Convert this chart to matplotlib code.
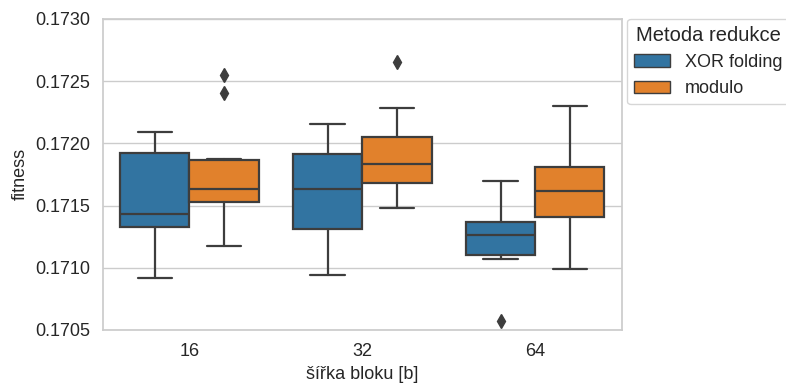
import matplotlib
matplotlib.use("Agg")
import matplotlib.pyplot as plt
import matplotlib.patches as mpatches
import seaborn as sns

sns.set_theme(style="whitegrid")
plt.rcParams['font.family'] = ['Liberation Sans', 'DejaVu Sans']

# box statistics: (whislo, q1, med, q3, whishi)
groups = ["16", "32", "64"]
methods = ["XOR folding", "modulo"]
xor_stats = [
    (0.170918, 0.171328, 0.171432, 0.171923, 0.172092),
    (0.170940, 0.171315, 0.171633, 0.171912, 0.172153),
    (0.171068, 0.171103, 0.171264, 0.171368, 0.171700),
]
mod_stats = [
    (0.171175, 0.171526, 0.171633, 0.171869, 0.171875),
    (0.171478, 0.171679, 0.171834, 0.172054, 0.172282),
    (0.170988, 0.171411, 0.171615, 0.171808, 0.172303),
]
xor_fliers = [[], [], [0.170575]]
mod_fliers = [[0.172550, 0.172405], [0.172657], []]

colors = ["#3274a1", "#e1812c"]
line_c = "#3d3d3d"

fig = plt.figure(figsize=(7.86, 3.85), dpi=100)
ax = fig.add_axes([0.131, 0.143, 0.66, 0.808])


def make_stats(rows, fliers):
    out = []
    for r, f in zip(rows, fliers):
        out.append(dict(whislo=r[0], q1=r[1], med=r[2], q3=r[3], whishi=r[4], fliers=f))
    return out


offsets = [-0.2, 0.2]
for k, (rows, fl) in enumerate([(xor_stats, xor_fliers), (mod_stats, mod_fliers)]):
    pos = [i + offsets[k] for i in range(len(groups))]
    ax.bxp(make_stats(rows, fl), positions=pos, widths=0.4, patch_artist=True,
           boxprops=dict(facecolor=colors[k], edgecolor=line_c, linewidth=1.6),
           medianprops=dict(color=line_c, linewidth=1.6),
           whiskerprops=dict(color=line_c, linewidth=1.6),
           capprops=dict(color=line_c, linewidth=1.6),
           flierprops=dict(marker="d", markerfacecolor=line_c, markeredgecolor=line_c,
                           markersize=7, linestyle="none"),
           manage_ticks=False)

ax.set_xlim(-0.5, 2.5)
ax.set_ylim(0.1705, 0.1730)
ax.set_xticks(range(len(groups)))
ax.set_xticklabels(groups)
ax.set_yticks([0.1705, 0.1710, 0.1715, 0.1720, 0.1725, 0.1730])
ax.set_yticklabels(["0.1705", "0.1710", "0.1715", "0.1720", "0.1725", "0.1730"])
ax.tick_params(labelsize=13, colors="#262626")
ax.xaxis.grid(False)
ax.set_axisbelow(True)
ax.set_xlabel("šířka bloku [b]", fontsize=13, color="#262626")
ax.set_ylabel("fitness", fontsize=13, color="#262626")

handles = [mpatches.Patch(facecolor=colors[i], edgecolor=line_c, label=methods[i])
           for i in range(2)]
ax.legend(handles=handles, title="Metoda redukce", loc="upper left",
          bbox_to_anchor=(1.01, 1.0), borderaxespad=0, fontsize=13, title_fontsize=14.5)

fig.savefig("out.png", dpi=100)
